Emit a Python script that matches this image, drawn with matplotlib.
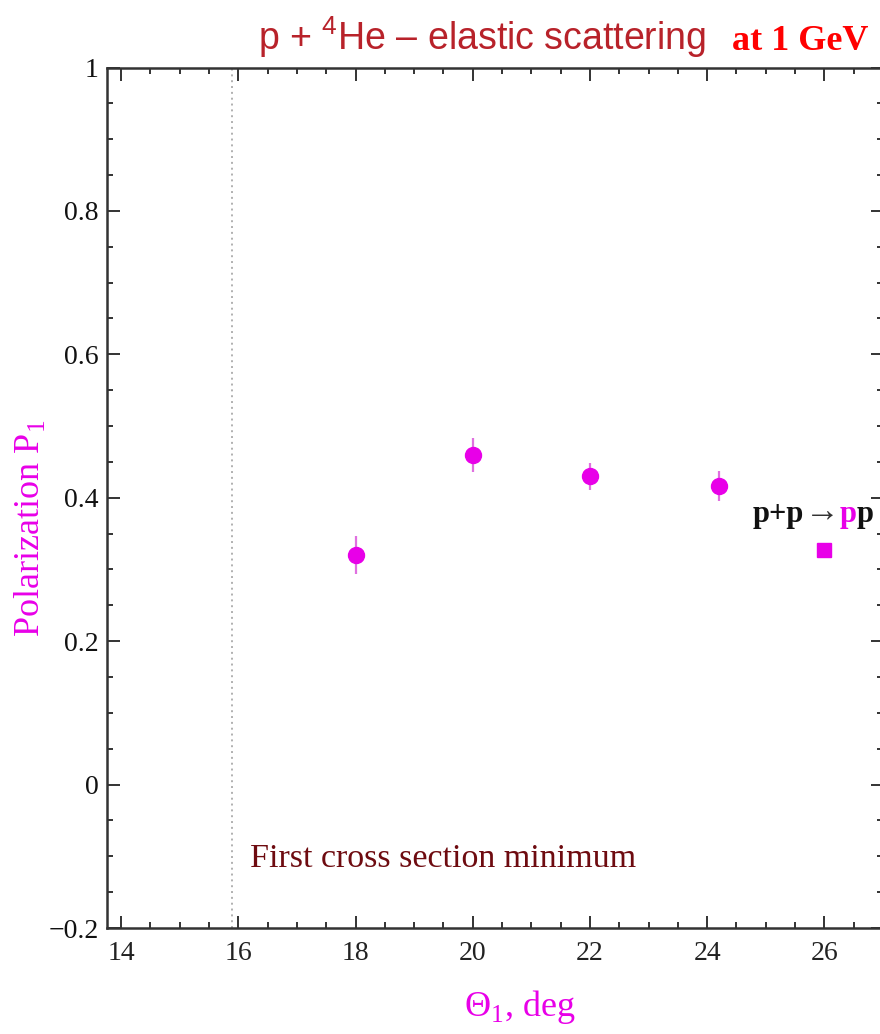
import matplotlib
matplotlib.use("Agg")
import matplotlib.pyplot as plt
from matplotlib.ticker import MultipleLocator, FixedLocator, FixedFormatter

# ---- data ----
theta_he = [18.0, 20.0, 22.0, 24.2]
pol_he = [0.320, 0.460, 0.430, 0.416]
err_he = [0.027, 0.024, 0.019, 0.021]
theta_pp = [26.0]
pol_pp = [0.327]
cross_min = 15.9
xticks = [14, 16, 18, 20, 22, 24, 26]
yticks = [-0.2, 0, 0.2, 0.4, 0.6, 0.8, 1.0]
ytick_labels = ["\u22120.2", "0", "0.2", "0.4", "0.6", "0.8", "1"]

MAG = "#e800e8"
SERIF = ["Liberation Serif", "DejaVu Serif"]
SANS = ["Liberation Sans", "DejaVu Sans"]

plt.rcParams["mathtext.fontset"] = "custom"
plt.rcParams["mathtext.rm"] = "Liberation Serif"
plt.rcParams["mathtext.sf"] = "Liberation Sans"

W, H = 880, 1034
fig = plt.figure(figsize=(W / 100, H / 100), dpi=100)
L, R, T, B = 107, 883, 67.5, 928
ax = fig.add_axes([L / W, 1 - B / H, (R - L) / W, (B - T) / H])
ax.set_xlim(13.76, 27.0)
ax.set_ylim(-0.2, 1.0)

# vertical dotted line: first cross-section minimum
ax.axvline(cross_min, color="#b0b0b0", lw=1.4, ls=(0, (1, 2)))

ax.errorbar(theta_he, pol_he, yerr=err_he, fmt="o", color=MAG, ms=11.5,
            ecolor="#e070e0", elinewidth=1.6, capsize=0, zorder=3)
ax.plot(theta_pp, pol_pp, "s", color=MAG, ms=10.5, zorder=3)

ax.text(16.2, -0.103, "First cross section minimum", color="#6e0b10",
        fontsize=24.5, family=SERIF, ha="left", va="center")

# axes styling
for s in ax.spines.values():
    s.set_linewidth(1.8)
    s.set_color("#333333")
ax.xaxis.set_major_locator(FixedLocator(xticks))
ax.xaxis.set_minor_locator(MultipleLocator(0.5))
ax.yaxis.set_major_locator(FixedLocator(yticks))
ax.yaxis.set_major_formatter(FixedFormatter(ytick_labels))
ax.yaxis.set_minor_locator(MultipleLocator(0.05))
ax.tick_params(which="both", direction="in", top=True, right=True,
               color="#333333", width=1.4)
ax.tick_params(which="major", length=9)
ax.tick_params(which="minor", length=4.5)
ax.tick_params(axis="x", which="major", pad=9, labelsize=20, labelcolor="#222222")
ax.tick_params(axis="y", which="major", pad=6, labelsize=20, labelcolor="#111111")
for lab in ax.get_xticklabels() + ax.get_yticklabels():
    lab.set_family(SERIF)

# axis labels
fig.text(30 / W, 1 - 528 / H, "Polarization P$_1$", rotation=90, color=MAG,
         fontsize=26, family=SERIF, ha="center", va="center")
fig.text(520 / W, 1 - 1007 / H, "\u0398$_1$, deg", color=MAG,
         fontsize=26, family=SERIF, ha="center", va="center")

# title
fig.text(258 / W, 1 - 50 / H, "p + $^{\\mathsf{4}}$He \u2013 elastic scattering",
         color="#b8222a", fontsize=27, family=SANS, ha="left", va="baseline")
fig.text(868 / W, 1 - 50 / H, "at 1 GeV", color="#ff0000", fontsize=26,
         family=SERIF, weight="bold", ha="right", va="baseline")

# p+p -> pp annotation, chained pieces
fig.canvas.draw()
rend = fig.canvas.get_renderer()
x0 = 753
yb = 1 - 522 / H
pieces = [("p+p", "#111111", 22, "bold"), ("\u2192", "#333333", 25, "normal"),
          ("p", MAG, 22, "bold"), ("p", "#111111", 22, "bold")]
for txt, col, fs, wt in pieces:
    t = fig.text(x0 / W, yb, txt, color=col, fontsize=fs, family=SERIF,
                 weight=wt, ha="left", va="baseline")
    bb = t.get_window_extent(rend)
    x0 = bb.x1

fig.savefig("out.png", dpi=100)
